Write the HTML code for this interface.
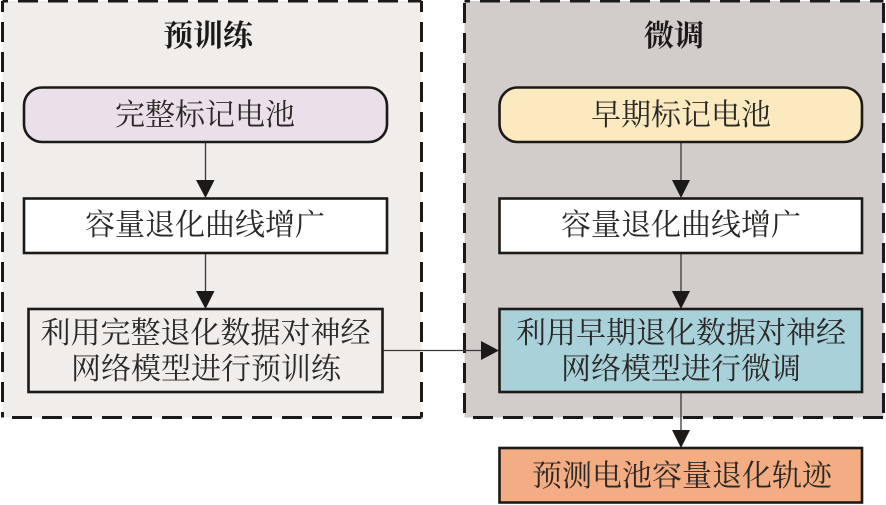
<!DOCTYPE html>
<html lang="zh">
<head>
<meta charset="utf-8">
<style>
html,body{margin:0;padding:0;background:#fff;}
svg{display:block;}
text{font-family:"Liberation Serif","Noto Serif CJK SC",serif;font-size:30px;fill:#2a2826;text-anchor:middle;}
.t{font-size:30px;font-weight:700;fill:#1c1a18;}
</style>
</head>
<body>
<svg xmlns="http://www.w3.org/2000/svg" width="886" height="505" viewBox="0 0 886 505">
<rect width="886" height="505" fill="#fff"/>
<!-- panels -->
<rect x="2.5" y="1" width="419" height="416.500" fill="#f0edeb"/>
<rect x="464.500" y="1" width="419" height="416.500" fill="#d2cdcb"/>
<g stroke="#1c1a18" stroke-width="3" stroke-dasharray="20 10" fill="none">
<line x1="2.5" y1="1" x2="421.500" y2="1" stroke-dashoffset="14.5"/>
<line x1="2.5" y1="417.500" x2="421.500" y2="417.500" stroke-dashoffset="20.5"/>
<line x1="2.5" y1="1" x2="2.5" y2="417.500" stroke-dashoffset="9"/>
<line x1="421.500" y1="1" x2="421.500" y2="417.500" stroke-dashoffset="9"/>
<line x1="464.500" y1="1" x2="883.500" y2="1" stroke-dashoffset="14.5"/>
<line x1="464.500" y1="417.500" x2="883.500" y2="417.500" stroke-dashoffset="21.5"/>
<line x1="464.500" y1="1" x2="464.500" y2="417.500" stroke-dashoffset="28"/>
<line x1="883.500" y1="1" x2="883.500" y2="417.500" stroke-dashoffset="28"/>
</g>
<text class="t" x="208" y="46">预训练</text>
<text class="t" x="674" y="46">微调</text>

<!-- connectors -->
<g stroke="#3a3836" stroke-width="1.3" fill="none">
<line x1="205.500" y1="142" x2="205.500" y2="182"/>
<line x1="205.500" y1="253" x2="205.500" y2="293"/>
<line x1="681" y1="142" x2="681" y2="182"/>
<line x1="681" y1="253" x2="681" y2="293"/>
<line x1="681" y1="392" x2="681" y2="432"/>
<line x1="383" y1="350.500" x2="483" y2="350.500"/>
</g>
<g fill="#1c1a18">
<polygon points="196,180 214.500,180 205.500,198"/>
<polygon points="196,291 214.500,291 205.500,309"/>
<polygon points="672,180 690,180 681,198"/>
<polygon points="672,291 690,291 681,309"/>
<polygon points="672,430 690,430 681,448"/>
<polygon points="481,341 481,360 499,350.500"/>
</g>

<!-- boxes -->
<g stroke="#1c1a18" stroke-width="2.600">
<rect x="24" y="87.500" width="363" height="54.500" rx="18" fill="#e9e0e9"/>
<rect x="24" y="198.500" width="363" height="54.500" fill="#fff"/>
<rect x="28.500" y="309" width="354" height="83" fill="#f0edeb"/>
<rect x="499.500" y="87.500" width="362.500" height="54.500" rx="18" fill="#fbe9bf"/>
<rect x="499.500" y="198.500" width="362.500" height="54.500" fill="#fff"/>
<rect x="499.500" y="309" width="362.500" height="83" fill="#a9d1da"/>
<rect x="499.500" y="448" width="362.500" height="54.500" fill="#f4ad82"/>
</g>

<!-- labels -->
<text x="205" y="125">完整标记电池</text>
<text x="205" y="235">容量退化曲线增广</text>
<text x="205.500" y="343">利用完整退化数据对神经</text>
<text x="206" y="379">网络模型进行预训练</text>
<text x="681" y="125">早期标记电池</text>
<text x="681" y="235">容量退化曲线增广</text>
<text x="681" y="343">利用早期退化数据对神经</text>
<text x="681" y="379">网络模型进行微调</text>
<text x="682" y="486">预测电池容量退化轨迹</text>
</svg>
</body>
</html>
